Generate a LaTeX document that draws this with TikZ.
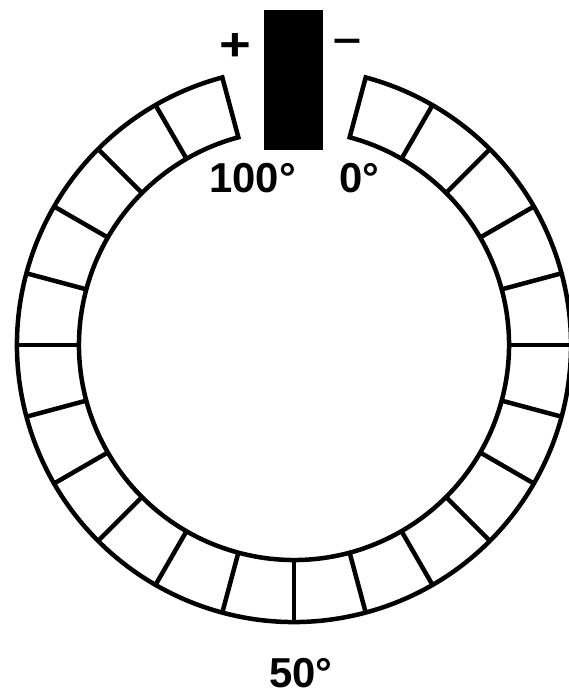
\documentclass[tikz,border=0pt]{standalone}
\usepackage{fontspec}
\setmainfont{Liberation Sans}

\begin{document}
\begin{tikzpicture}[x=1bp,y=1bp,line width=4.5bp,
  every node/.style={inner sep=0pt,font=\bfseries\fontsize{42}{50}\selectfont}]
\useasboundingbox (0,0) rectangle (569,696);
% ring of scale segments
\begin{scope}[shift={(294,351)}]
\draw (105:277) arc[start angle=105,end angle=435,radius=277] -- (75:215)
      arc[start angle=435,end angle=105,radius=215] -- cycle;
\foreach \a in {120,135,...,420}
  \draw (\a:215) -- (\a:277);
\end{scope}
% pointer
\fill (264,546) rectangle (323,686);
\node[xscale=1.3,yscale=1.1] (plus) at (235,649) {+};
\node[xscale=1.2] (minus) at (347,650) {–};
\node[anchor=base west] (full) at (207,503) {100°};
\node[anchor=base west] (empty) at (337,503) {0°};
\node[anchor=base west] (half) at (267,8) {50°};
\end{tikzpicture}
\end{document}
